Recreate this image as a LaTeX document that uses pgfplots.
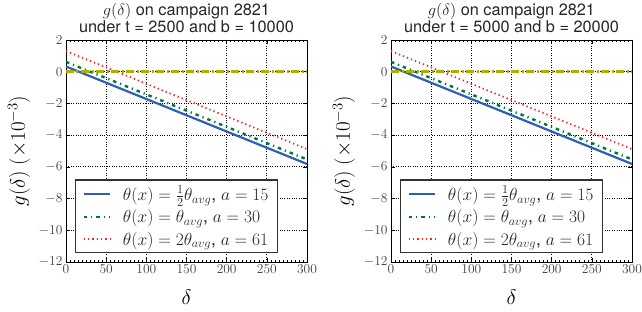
\RequirePackage{fix-cm}
\documentclass[border=0pt]{standalone}
\usepackage[no-math]{fontspec}
\setmainfont{TeX Gyre Heros}
\usepackage{pgfplots}
\pgfplotsset{compat=1.18}
\definecolor{cblue}{RGB}{45,95,178}
\definecolor{cgreen}{RGB}{0,118,60}
\definecolor{cred}{RGB}{245,40,40}
\definecolor{cyel}{RGB}{175,175,0}
\pgfplotsset{
  mystyle/.style={
    scale only axis, width=241pt, height=222pt,
    xmin=0, xmax=300, ymin=-12, ymax=2,
    xtick={0,50,...,300}, ytick={-12,-10,...,2},
    minor x tick num=9,
    minor tick length=2pt, major tick length=4pt,
    grid=major, grid style={black, dotted, line width=0.8pt},
    axis line style={black, line width=0.8pt},
    tick style={black, line width=0.6pt},
    tick label style={font=\fontsize{13.5}{14}\selectfont, black!75},
    xticklabel style={yshift=1pt},
    xlabel={$\delta$},
    xlabel style={font=\fontsize{21}{24}\selectfont, at={(axis description cs:0.5,-0.158)}, anchor=center},
    ylabel={$g(\delta)\ (\times 10^{-3})$},
    ylabel style={font=\fontsize{21}{24}\selectfont, at={(axis description cs:-0.195,0.5)}, anchor=center, rotate=0},
    title style={font=\fontsize{16.3}{16.8}\selectfont, align=center, inner sep=0pt, yshift=1pt, text=black!85},
    legend style={at={(axis description cs:0.037,0.04)}, anchor=south west,
      font=\fontsize{17.5}{19}\selectfont, draw=black!80, line width=1.2pt,
      inner xsep=7pt, inner ysep=4pt, row sep=3.5pt, column sep=10pt,
      nodes={inner sep=2pt, text=black!85}},
    legend cell align=left,
    legend image code/.code={\draw[#1] plot coordinates {(0pt,0pt) (13pt,0pt) (26pt,0pt)};},
  },
  blueline/.style={cblue, line width=2.2pt, solid},
  greenline/.style={cgreen, line width=2.4pt, dash pattern=on 3.5pt off 4pt on 1.2pt off 4pt},
  redline/.style={cred, line width=1.8pt, dash pattern=on 1.3pt off 3pt},
  yelline/.style={cyel, line width=2.6pt, dash pattern=on 8pt off 2.5pt on 2pt off 2.5pt},
}
\begin{document}
\begin{tikzpicture}
\path[use as bounding box] (0,0) rectangle (642pt,312pt);
\begin{axis}[mystyle, at={(66pt,50pt)}, anchor=south west,
  title={$g(\delta)$ on campaign 2821\\under t = 2500 and b = 10000}]
\addplot[blueline] coordinates {(0,0.33) (300,-5.82)};
\addlegendentry{$\theta(x)=\frac{1}{2}\theta_{avg}$, $a=15$}
\addplot[greenline] coordinates {(0,0.62) (300,-5.53)};
\addlegendentry{$\theta(x)=\theta_{avg}$, $a=30$}
\addplot[redline] coordinates {(0,1.3) (300,-4.88)};
\addlegendentry{$\theta(x)=2\theta_{avg}$, $a=61$}
\addplot[yelline, forget plot] coordinates {(0,0) (300,0)};
\end{axis}
\begin{axis}[mystyle, at={(391pt,50pt)}, anchor=south west,
  title={$g(\delta)$ on campaign 2821\\under t = 5000 and b = 20000}]
\addplot[blueline] coordinates {(0,0.33) (300,-5.82)};
\addlegendentry{$\theta(x)=\frac{1}{2}\theta_{avg}$, $a=15$}
\addplot[greenline] coordinates {(0,0.62) (300,-5.53)};
\addlegendentry{$\theta(x)=\theta_{avg}$, $a=30$}
\addplot[redline] coordinates {(0,1.3) (300,-4.88)};
\addlegendentry{$\theta(x)=2\theta_{avg}$, $a=61$}
\addplot[yelline, forget plot] coordinates {(0,0) (300,0)};
\end{axis}
\end{tikzpicture}
\end{document}
